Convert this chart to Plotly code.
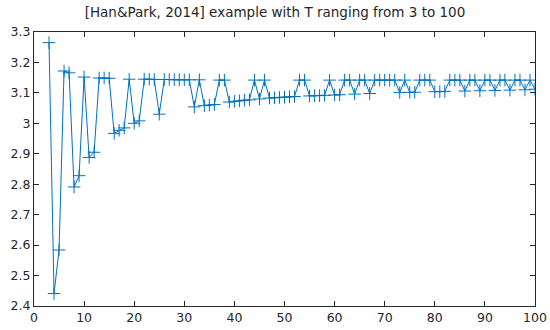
import plotly.graph_objects as go

T = list(range(3, 101))
values = [
    3.265, 2.441, 2.584, 3.172, 3.166, 2.791, 2.828, 3.152, 2.888, 2.905,  # 3-12
    3.149, 3.149, 3.148, 2.967, 2.977, 2.985, 3.145, 3.000, 3.008, 3.145,  # 13-22
    3.145, 3.144, 3.030, 3.144, 3.144, 3.143, 3.143, 3.143, 3.143, 3.054,  # 23-32
    3.143, 3.058, 3.060, 3.062, 3.142, 3.142, 3.070, 3.072, 3.074, 3.076,  # 33-42
    3.077, 3.142, 3.080, 3.142, 3.083, 3.084, 3.085, 3.086, 3.087, 3.088,  # 43-52
    3.142, 3.142, 3.090, 3.091, 3.091, 3.092, 3.142, 3.093, 3.094, 3.142,  # 53-62
    3.142, 3.096, 3.142, 3.142, 3.098, 3.142, 3.142, 3.142, 3.142, 3.142,  # 63-72
    3.101, 3.142, 3.102, 3.102, 3.142, 3.142, 3.142, 3.104, 3.104, 3.105,  # 73-82
    3.142, 3.142, 3.142, 3.106, 3.142, 3.142, 3.107, 3.142, 3.142, 3.108,  # 83-92
    3.142, 3.142, 3.109, 3.142, 3.142, 3.110, 3.142, 3.112,                # 93-100
]

x_ticks = [0, 10, 20, 30, 40, 50, 60, 70, 80, 90, 100]
y_ticks = [2.4, 2.5, 2.6, 2.7, 2.8, 2.9, 3.0, 3.1, 3.2, 3.3]
y_ticklabels = ["2.4", "2.5", "2.6", "2.7", "2.8", "2.9", "3", "3.1", "3.2", "3.3"]

blue = "#0072BD"

fig = go.Figure()
fig.add_trace(go.Scatter(
    x=T, y=values, mode="lines+markers",
    line=dict(color=blue, width=1),
    marker=dict(symbol="cross-thin", size=9, line=dict(color=blue, width=1), color=blue),
    showlegend=False,
))

axis_common = dict(
    showline=True, linecolor="#262626", linewidth=1, mirror="ticks",
    ticks="inside", ticklen=5, tickwidth=1, tickcolor="#262626",
    showgrid=False, zeroline=False, automargin=False,
    ticklabeloverflow="allow",
    tickfont=dict(family="DejaVu Sans", size=12.5, color="#262626"),
)

fig.update_layout(
    width=550, height=330, autosize=False,
    margin=dict(l=34, r=15, t=32, b=24),
    paper_bgcolor="white", plot_bgcolor="white",
    title=dict(text="[Han&Park, 2014] example with T ranging from 3 to 100",
               x=0.5, xanchor="center", y=0.963, yanchor="middle",
               font=dict(family="DejaVu Sans", size=13.5, color="#262626")),
    xaxis=dict(range=[0, 100], tickvals=x_ticks, **axis_common),
    yaxis=dict(range=[2.4, 3.3], tickvals=y_ticks, ticktext=y_ticklabels, **axis_common),
)

fig.write_html(
    "out.html",
    config={"displayModeBar": False, "responsive": False},
    post_script="document.body.style.margin='0';document.body.style.padding='0';"
                "document.body.style.overflow='hidden';",
)
